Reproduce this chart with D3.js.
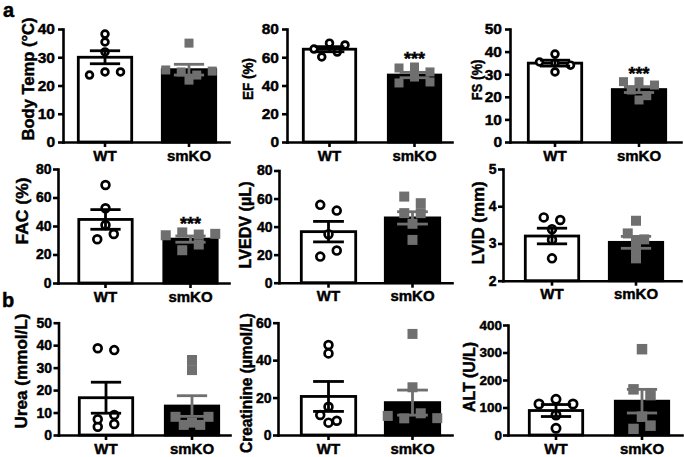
<!DOCTYPE html>
<html>
<head>
<meta charset="utf-8">
<script src="https://cdn.jsdelivr.net/npm/d3@7"></script>
<style>
  html, body { margin: 0; padding: 0; background: #ffffff; }
  svg { display: block; }
  text { font-family: "Liberation Sans", Arial, Helvetica, sans-serif; font-weight: bold; fill: #000; }
</style>
</head>
<body>
<script>
// ---------------- DATA ----------------
const categories = ["WT", "smKO"];
const titles = ["Body Temp (°C)", "EF (%)", "FS (%)", "FAC (%)", "LVEDV (µL)", "LVID (mm)",
                "Urea (mmol/L)", "Creatinine (µmol/L)", "ALT (U/L)"];
const yDomains = [[0, 40], [0, 80], [0, 50], [0, 80], [0, 80], [2, 5], [0, 50], [0, 60], [0, 400]];
const yTicks = [
  [0, 10, 20, 30, 40], [0, 20, 40, 60, 80], [0, 10, 20, 30, 40, 50],
  [0, 20, 40, 60, 80], [0, 20, 40, 60, 80], [2, 3, 4, 5],
  [0, 10, 20, 30, 40, 50], [0, 20, 40, 60], [0, 100, 200, 300, 400]
];
const wtMean = [30.0, 65.7, 34.9, 44.6, 36.4, 3.20, 16.6, 20.6, 89];
const wtSem  = [2.3, 1.8, 1.3, 6.9, 7.3, 0.21, 6.9, 8.0, 21.8];
const koMean = [25.6, 47.4, 23.2, 30.8, 46.2, 3.03, 12.9, 17.3, 123];
const koSem  = [1.9, 1.9, 1.3, 2.2, 4.4, 0.16, 4.6, 6.7, 43];
const wtPoints = [
  [23.7, 24.8, 24.8, 35.4, 38.2, 31.9],
  [65.8, 70.0, 60.2, 63.7, 68.7],
  [31.0, 35.4, 35.0, 34.0, 38.9],
  [68.8, 52.4, 40.7, 30.7, 34.4],
  [55.5, 51.4, 34.6, 18.6, 22.9],
  [3.70, 3.63, 3.38, 3.10, 2.60],
  [38.6, 37.8, 3.7, 7.0, 8.9, 4.9],
  [48.1, 43.6, 15.1, 10.7, 7.6, 6.6],
  [112.7, 129.8, 112.7, 72.7, 24.4]
];
const koPoints = [
  [25.5, 21.9, 24.8, 23.7, 25.1, 35.0],
  [41.8, 52.4, 53.1, 46.0, 49.6, 42.5],
  [18.6, 26.7, 26.7, 23.0, 25.2, 20.5],
  [33.5, 35.5, 23.0, 34.0, 27.0, 34.5],
  [61.4, 56.7, 49.6, 49.6, 42.0, 30.5],
  [3.61, 3.27, 3.11, 3.05, 2.60, 2.80],
  [33.4, 28.9, 4.5, 8.1, 5.5, 8.1, 4.5],
  [54.0, 25.5, 10.2, 8.9, 11.6, 9.0],
  [312, 166, 145, 66.5, 22, 34]
];
const significance = ["", "***", "***", "***", "", "", "", "", ""];
const panelLetters = ["a", "b"];

// ---------------- LAYOUT (pixels) ----------------
const layout = [
  {axisX: 63,  right: 229, top: 29,    bottom: 142,   bars: [77, 161],    bw: 56, titleX: 34,  titleY: 79,  titleSize: 16,   titleLen: 123, tickFont: 15.5, tickPad: 3, ms: 9.5},
  {axisX: 287, right: 452, top: 29,    bottom: 142,   bars: [302, 387],   bw: 55, titleX: 253, titleY: 79,  titleSize: 15,   titleLen: 42,  tickFont: 15.5, tickPad: 3, ms: 9.5},
  {axisX: 510, right: 681, top: 29,    bottom: 142,   bars: [527, 611],   bw: 56, titleX: 482, titleY: 80,  titleSize: 15,   titleLen: 41,  tickFont: 15.5, tickPad: 3, ms: 9.5},
  {axisX: 58,  right: 229, top: 169,   bottom: 283,   bars: [77.5, 162.5],bw: 56, titleX: 28,  titleY: 211, titleSize: 16.5, titleLen: 67,  tickFont: 14,   tickPad: 1.5, ms: 10.5},
  {axisX: 279, right: 452, top: 170.5, bottom: 282.7, bars: [300, 384],   bw: 57, titleX: 251, titleY: 225, titleSize: 16,   titleLen: 87,  tickFont: 14,   tickPad: 1.5, ms: 10.5},
  {axisX: 503, right: 681, top: 169,   bottom: 280.7, bars: [524, 608],   bw: 56, titleX: 484, titleY: 223, titleSize: 16,   titleLen: 83,  tickFont: 14,   tickPad: 1.5, ms: 10.5},
  {axisX: 58.5,right: 230, top: 322.7, bottom: 435,   bars: [78, 164],    bw: 56, titleX: 27,  titleY: 371, titleSize: 16.5, titleLen: 115, tickFont: 14,   tickPad: 1.5, ms: 10.5},
  {axisX: 278, right: 452, top: 322.7, bottom: 435,   bars: [300, 384],   bw: 57, titleX: 252, titleY: 383, titleSize: 16,   titleLen: 140, tickFont: 14,   tickPad: 1.5, ms: 10.5},
  {axisX: 508, right: 682, top: 325,   bottom: 435,   bars: [528, 614],   bw: 56, titleX: 475, titleY: 377, titleSize: 16,   titleLen: 70,  tickFont: 13.5, tickPad: 1,   ms: 11}
];
const letterPos = [{x: 3, y: 17}, {x: 2, y: 307}];

const GREY = "#6f6f6f";
const TEXT_STROKE = 0.45;
const svg = d3.select("body").append("svg").attr("width", 684).attr("height", 457);

// simple GraphPad-like scatter layout: group points of similar height, spread them symmetrically
function swarm(vals, y, spacing, thresh) {
  const order = vals.map((v, i) => i).sort((a, b) => vals[b] - vals[a]);
  const bins = [];
  order.forEach(i => {
    const py = y(vals[i]);
    const last = bins[bins.length - 1];
    if (last && Math.abs(py - last.y0) < thresh) last.items.push(i);
    else bins.push({y0: py, items: [i]});
  });
  const off = new Array(vals.length).fill(0);
  bins.forEach(b => {
    b.items.sort((a, c) => a - c);
    const n = b.items.length;
    b.items.forEach((idx, k) => { off[idx] = (k - (n - 1) / 2) * spacing; });
  });
  return off;
}

function heavy(sel) {
  return sel.attr("stroke", "#000").attr("stroke-width", TEXT_STROKE).attr("fill", "#000");
}

titles.forEach((title, i) => {
  const L = layout[i];
  const g = svg.append("g");
  const y = d3.scaleLinear().domain(yDomains[i]).range([L.bottom, L.top]);
  const s = L.bars[1] - L.bars[0];
  const gap = s - L.bw;
  const lo = L.bars[0] - L.axisX;
  const ro = L.right - (L.bars[1] + L.bw);
  const x = d3.scaleBand().domain(categories).range([L.axisX, L.right])
    .paddingInner(gap / s).paddingOuter((lo + ro) / (2 * s)).align(lo / (lo + ro));
  const base = yDomains[i][0];

  const means = [wtMean[i], koMean[i]];
  const sems = [wtSem[i], koSem[i]];
  const pts = [wtPoints[i], koPoints[i]];

  // bars
  g.selectAll("rect.bar").data(categories).enter().append("rect")
    .attr("class", "bar")
    .attr("x", d => x(d) + 1.3)
    .attr("width", x.bandwidth() - 2.6)
    .attr("y", (d, k) => y(means[k]))
    .attr("height", (d, k) => y(base) - y(means[k]))
    .attr("fill", (d, k) => k === 0 ? "#fff" : "#000")
    .attr("stroke", "#000")
    .attr("stroke-width", 2.8);

  // points
  const spacing = L.ms + 6;
  categories.forEach((c, k) => {
    const cx = x(c) + x.bandwidth() / 2;
    const off = swarm(pts[k], y, spacing, 7);
    if (k === 0) {
      g.selectAll(null).data(pts[k]).enter().append("circle")
        .attr("cx", (d, j) => cx + off[j])
        .attr("cy", d => y(d))
        .attr("r", (L.ms - 2.7) / 2)
        .attr("fill", "#fff").attr("stroke", "#000").attr("stroke-width", 2.7);
    } else {
      g.selectAll(null).data(pts[k]).enter().append("rect")
        .attr("x", (d, j) => cx + off[j] - (L.ms - 0.5) / 2)
        .attr("y", d => y(d) - (L.ms - 0.5) / 2)
        .attr("width", L.ms - 0.5).attr("height", L.ms - 0.5)
        .attr("fill", GREY);
    }
    // error bars (mean ± SEM)
    const col = k === 0 ? "#000" : GREY;
    const capW = x.bandwidth() * 0.27;
    const eg = g.append("g").attr("stroke", col).attr("stroke-width", 2.8).attr("fill", "none");
    eg.append("line").attr("x1", cx).attr("x2", cx)
      .attr("y1", y(means[k] - sems[k])).attr("y2", y(means[k] + sems[k]));
    [means[k] - sems[k], means[k] + sems[k]].forEach(v => {
      eg.append("line").attr("x1", cx - capW).attr("x2", cx + capW).attr("y1", y(v)).attr("y2", y(v));
    });
    if (k === 1 && significance[i]) {
      const topVal = Math.max(d3.max(pts[k]), means[k] + sems[k]);
      heavy(g.append("text").attr("x", cx).attr("y", y(topVal) - 2)
        .attr("text-anchor", "middle").style("font-size", "18px").text(significance[i]));
    }
  });

  // y axis
  const ya = g.append("g").attr("transform", `translate(${L.axisX},0)`)
    .call(d3.axisLeft(y).tickValues(yTicks[i]).tickSize(5).tickSizeOuter(0).tickPadding(L.tickPad).tickFormat(d3.format("d")));
  // x axis
  const xa = g.append("g").attr("transform", `translate(0,${L.bottom})`)
    .call(d3.axisBottom(x).tickSize(5).tickSizeOuter(0).tickPadding(3));
  [ya, xa].forEach(a => {
    a.select(".domain").attr("stroke", "#000").attr("stroke-width", 2.6).attr("stroke-linecap", "square");
    a.selectAll(".tick line").attr("stroke", "#000").attr("stroke-width", 2.6);
    heavy(a.selectAll(".tick text")).style("font-weight", "bold")
      .style("font-family", "'Liberation Sans', Arial, sans-serif");
  });
  ya.selectAll(".tick text").style("font-size", L.tickFont + "px");
  xa.selectAll(".tick text").style("font-size", "15px");

  // y title
  heavy(g.append("text")
    .attr("transform", `translate(${L.titleX},${L.titleY}) rotate(-90)`)
    .attr("text-anchor", "middle")
    .attr("textLength", L.titleLen)
    .attr("lengthAdjust", "spacingAndGlyphs")
    .style("font-size", L.titleSize + "px")
    .text(title));
});

panelLetters.forEach((t, i) => {
  heavy(svg.append("text").attr("x", letterPos[i].x).attr("y", letterPos[i].y)
    .style("font-size", "20px").text(t));
});
</script>
</body>
</html>
